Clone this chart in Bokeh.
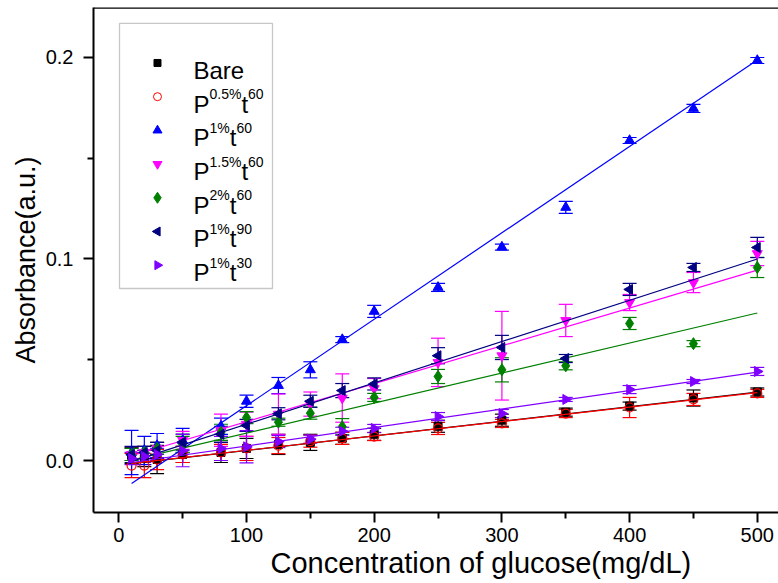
import math
from bokeh.plotting import figure
from bokeh.models import (ColumnDataSource, Whisker, TeeHead, FixedTicker, PrintfTickFormatter,
                          Label, BoxAnnotation, Span, Range1d, Title)
from bokeh.embed import file_html
from bokeh.resources import INLINE

# ---------------- data ----------------
conc = [10, 20, 30, 50, 80, 100, 125, 150, 175, 200, 250, 300, 350, 400, 450, 500]

bare = [0.0025, 0.001, 0.0005, 0.003, 0.004, 0.006, 0.008, 0.009, 0.011, 0.013, 0.017, 0.020, 0.024, 0.027, 0.031, 0.034]
bare_err = [0.004, 0.004, 0.007, 0.004, 0.005, 0.005, 0.005, 0.004, 0.003, 0.003, 0.003, 0.003, 0.002, 0.002, 0.004, 0.002]

p05t60 = [-0.0025, -0.0025, 0.0005, 0.003, 0.004, 0.006, 0.0074, 0.0096, 0.011, 0.0119, 0.0159, 0.0184, 0.0233, 0.0263, 0.0303, 0.0333]
p05t60_err = [0.006, 0.006, 0.005, 0.004, 0.004, 0.006, 0.004, 0.003, 0.003, 0.002, 0.003, 0.002, 0.002, 0.005, 0.003, 0.002]

p1t60 = [0.004, 0.005, 0.0074, 0.0099, 0.017, 0.0294, 0.0372, 0.045, 0.060, 0.074, 0.0859, 0.1059, 0.1256, 0.1588, 0.1747, 0.1985]
p1t60_err = [0.011, 0.007, 0.006, 0.006, 0.004, 0.003, 0.004, 0.004, 0.0015, 0.003, 0.002, 0.0015, 0.003, 0.0015, 0.002, 0.0015]

p15t60 = [0.003, 0.004, 0.006, 0.010, 0.015, 0.018, 0.023, 0.028, 0.031, 0.0357, 0.0487, 0.052, 0.0695, 0.0784, 0.0883, 0.1027]
p15t60_err = [0.003, 0.003, 0.003, 0.0045, 0.008, 0.006, 0.010, 0.006, 0.012, 0.005, 0.012, 0.022, 0.008, 0.004, 0.005, 0.006]

p2t60 = [0.003, 0.004, 0.006, 0.008, 0.014, 0.0213, 0.019, 0.0235, 0.0168, 0.0313, 0.0417, 0.045, 0.047, 0.068, 0.058, 0.0958]
p2t60_err = [0.003, 0.003, 0.003, 0.004, 0.004, 0.003, 0.002, 0.003, 0.004, 0.002, 0.0035, 0.006, 0.002, 0.003, 0.0015, 0.005]

p1t90 = [0.003, 0.004, 0.005, 0.0091, 0.013, 0.0174, 0.0232, 0.0294, 0.0347, 0.038, 0.052, 0.0561, 0.0506, 0.0849, 0.0958, 0.1057]
p1t90_err = [0.004, 0.003, 0.004, 0.004, 0.004, 0.003, 0.003, 0.003, 0.0035, 0.003, 0.004, 0.006, 0.002, 0.003, 0.002, 0.005]

p1t30 = [0.001, 0.002, 0.003, 0.0049, 0.006, 0.0068, 0.0094, 0.0106, 0.0145, 0.0159, 0.0218, 0.0233, 0.0303, 0.0352, 0.0392, 0.0442]
p1t30_err = [0.003, 0.003, 0.003, 0.008, 0.006, 0.008, 0.003, 0.002, 0.002, 0.002, 0.002, 0.002, 0.001, 0.002, 0.001, 0.002]

# linear fits (slope, intercept)
fit_slopes = [0.0000725, 0.0000715, 0.000429, 0.000188, 0.000149, 0.000205, 0.0000915]
fit_intercepts = [-0.0023, -0.0021, -0.0157, 0.0005, -0.0013, -0.0025, -0.0019]
fit_range = [10, 500]

series_labels = [("Bare", None, None), ("P", "0.5%", "60"), ("P", "1%", "60"), ("P", "1.5%", "60"),
                 ("P", "2%", "60"), ("P", "1%", "90"), ("P", "1%", "30")]
series_values = [bare, p05t60, p1t60, p15t60, p2t60, p1t90, p1t30]
series_errors = [bare_err, p05t60_err, p1t60_err, p15t60_err, p2t60_err, p1t90_err, p1t30_err]
colors = ["#000000", "#FF0000", "#0000FF", "#FF00FF", "#008000", "#000080", "#8000FF"]
markers = ["square", "circle", "triangle", "inverted_triangle", "diamond", "triangle", "triangle"]
angles = [0, 0, 0, 0, 0, math.pi / 2, -math.pi / 2]
filled = [True, False, True, True, True, True, True]
msizes = [8, 9, 10, 10, 12, 10, 10]

x_title = "Concentration of glucose(mg/dL)"
y_title = "Absorbance(a.u.)"

# ---------------- layout ----------------
W, H = 778, 583
FONT = "Liberation Sans"
X0, X1 = -19.81, 516.6
Y0, Y1 = -0.0258, 0.2248

p = figure(width=W, height=H, output_backend="svg", toolbar_location=None,
           x_range=Range1d(X0, X1), y_range=Range1d(Y0, Y1),
           min_border_left=93, min_border_right=0, min_border_top=7, min_border_bottom=71)
p.outline_line_color = None
p.xgrid.visible = False
p.ygrid.visible = False
p.background_fill_color = "white"
p.border_fill_color = "white"

for ax in (p.xaxis[0], p.yaxis[0]):
    ax.axis_line_width = 2
    ax.axis_line_color = "black"
    ax.major_tick_line_width = 2
    ax.minor_tick_line_width = 2
    ax.major_tick_in = 0
    ax.minor_tick_in = 0
    ax.major_tick_out = 10
    ax.minor_tick_out = 6
    ax.major_label_text_font = FONT
    ax.major_label_text_font_size = "20px"
    ax.major_label_text_color = "black"
    ax.axis_label_text_font = FONT
    ax.axis_label_text_font_size = "27px"
    ax.axis_label_text_font_style = "normal"
    ax.axis_label_text_color = "black"

p.xaxis.ticker = FixedTicker(ticks=[0, 100, 200, 300, 400, 500], minor_ticks=[50, 150, 250, 350, 450])
p.yaxis.ticker = FixedTicker(ticks=[0.0, 0.1, 0.2], minor_ticks=[0.05, 0.15])
p.yaxis.formatter = PrintfTickFormatter(format="%.1f")
p.yaxis.axis_label = y_title
p.xaxis.major_label_standoff = 5
p.yaxis.major_label_standoff = 10
p.yaxis.axis_label_standoff = 2

# x axis title: the original centres it on a frame that runs past the right edge
p.add_layout(Title(text=x_title, align="left", offset=177, standoff=0, text_font=FONT,
                   text_font_size="29px", text_font_style="normal", text_color="black"), "below")

p.add_layout(Span(location=Y1, dimension="width", line_color="black", line_width=2.5))

# ---------------- series ----------------
for vals, errs, col, mk, ang, fil, ms, sl, ic in zip(series_values, series_errors, colors, markers, angles,
                                                     filled, msizes, fit_slopes, fit_intercepts):
    src = ColumnDataSource(dict(x=conc, y=vals,
                                lo=[v - e for v, e in zip(vals, errs)],
                                hi=[v + e for v, e in zip(vals, errs)]))
    p.line(x=fit_range, y=[sl * fit_range[0] + ic, sl * fit_range[1] + ic], line_color=col, line_width=1.2)
    wk = Whisker(source=src, base="x", upper="hi", lower="lo", dimension="height",
                 line_color=col, line_width=1.2,
                 upper_head=TeeHead(size=14, line_color=col, line_width=1.2),
                 lower_head=TeeHead(size=14, line_color=col, line_width=1.2))
    p.add_layout(wk)
    p.scatter(x="x", y="y", source=src, marker=mk, size=ms, angle=ang,
              line_color=col, fill_color=col if fil else None, line_width=1.2 if not fil else 1)

# ---------------- page-pixel helpers for the legend ----------------
def dx(px):
    return (px - 118.3) / 1.277

def dy(py):
    return (460.0 - py) / 2015.0

CW = {"P": 0.667, "t": 0.278, "B": 0.667, "a": 0.556, "r": 0.333, "e": 0.556, ".": 0.278, "%": 0.889}
def tw(s, size):
    return sum(CW.get(c, 0.556) for c in s) * size

p.add_layout(BoxAnnotation(left=dx(119), right=dx(272), top=dy(23), bottom=dy(288),
                           fill_color="white", fill_alpha=1, line_color="#444444", line_width=1.3,
                           level="annotation"))

BIG, SMALL = 24, 14
for i, ((base, sup1, sup2), col, mk, ang, fil, ms) in enumerate(zip(series_labels, colors, markers, angles,
                                                                     filled, msizes)):
    base_y = 70 + i * 33.7
    p.scatter(x=[dx(157)], y=[dy(base_y - 7.5)], marker=mk, size=ms - 1, angle=ang,
              line_color=col, fill_color=col if fil else None, level="overlay")
    xpos = 193.0
    def put(txt, size, raise_px):
        p.add_layout(Label(x=dx(xpos), y=dy(base_y - raise_px), text=txt, text_font=FONT,
                           text_font_size=f"{size}px", text_baseline="alphabetic", text_align="left",
                           text_color="black", level="overlay"))
        return xpos + tw(txt, size)
    xpos = put(base, BIG, 0)
    if sup1:
        xpos = put(sup1, SMALL, 10)
        xpos = put("t", BIG, 0)
        xpos = put(sup2, SMALL, 10)

open("out.html", "w").write(file_html(p, INLINE))
